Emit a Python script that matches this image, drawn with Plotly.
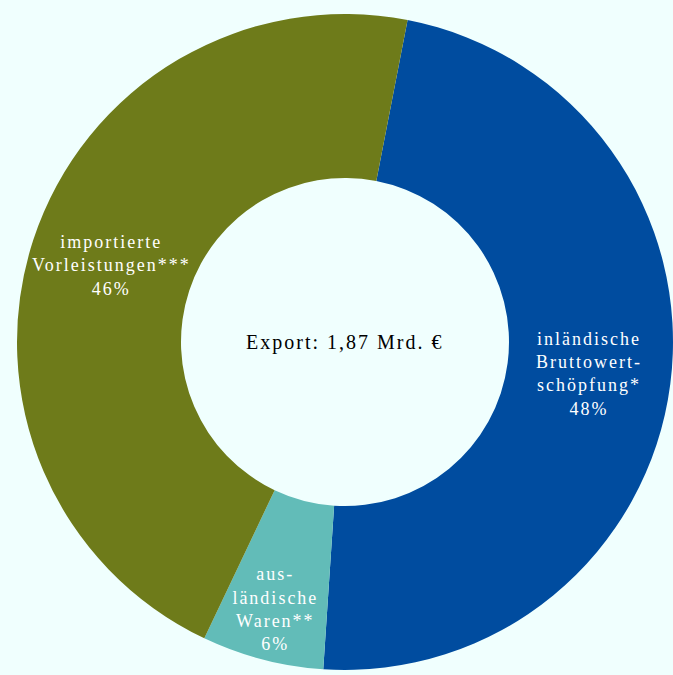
import plotly.graph_objects as go

# Export composition (shares in percent)
labels = [
    "inländische<br>Bruttowert-<br>schöpfung*",
    "aus-<br>ländische<br>Waren**",
    "importierte<br>Vorleistungen***",
]
shares = [48, 6, 46]
colors = ["#004C9F", "#62BCB8", "#6E7B1A"]
center_text = "Export: 1,87 Mrd. €"

BG = "#F0FFFE"
W, H = 673, 675

fig = go.Figure(
    go.Pie(
        labels=labels,
        values=shares,
        marker=dict(colors=colors, line=dict(width=0)),
        hole=0.5,
        sort=False,
        direction="clockwise",
        rotation=11,
        texttemplate="%{label}<br>%{value}%",
        textposition="inside",
        insidetextorientation="horizontal",
        textfont=dict(family="Liberation Serif", size=18, color="white"),
        showlegend=False,
        hoverinfo="skip",
        domain=dict(x=[17 / W, 1.0], y=[1 - 674 / H, 1 - 10 / H]),
    )
)

fig.add_annotation(
    text=center_text,
    x=(17 / W + 1.0) / 2,
    y=1 - 342 / H,
    xref="paper",
    yref="paper",
    showarrow=False,
    font=dict(family="Liberation Serif", size=20, color="black"),
)

fig.update_layout(
    width=W,
    height=H,
    margin=dict(l=0, r=0, t=0, b=0),
    paper_bgcolor=BG,
    plot_bgcolor=BG,
    uniformtext=dict(minsize=18, mode="show"),
)

fig.write_html(
    "out.html",
    config={"displayModeBar": False},
    post_script="document.querySelectorAll('.main-svg text').forEach(function(t){t.style.letterSpacing='2px';});",
)
